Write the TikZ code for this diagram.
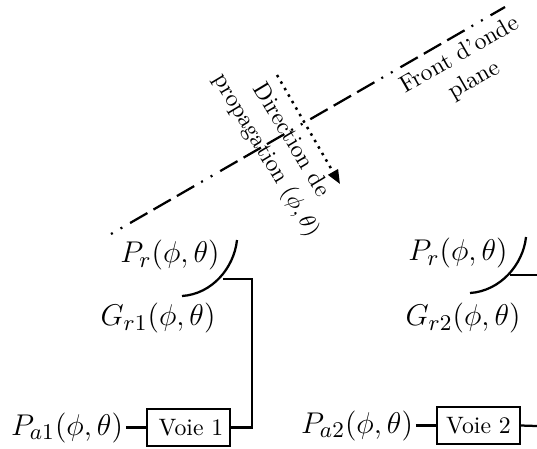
\documentclass[tikz,border=0pt]{standalone}
\usetikzlibrary{shapes,arrows,arrows.meta,positioning,fit,calc}
\usepackage{xcolor}

\begin{document}
\begin{tikzpicture}[x=0.4pt, y=-0.4pt, auto]
  \tikzstyle{voie} = [rectangle, draw, line width=0.9pt, minimum width=33pt, minimum height=14.8pt, inner sep=0pt, text centered, font=\fontsize{9.5pt}{11.6pt}\selectfont]
  \tikzstyle{wire} = [line width=0.9pt]
  \tikzstyle{dish} = [line width=0.9pt]
  \tikzstyle{power} = [font=\fontsize{13pt}{15pt}\selectfont, inner sep=0pt]
  \tikzstyle{legend} = [align=center, inner sep=0pt, font=\fontsize{9.5pt}{11.6pt}\selectfont]
  \tikzstyle{front} = [line width=0.9pt, dash pattern=on 0.8pt off 3.6pt on 0.8pt off 3.6pt on 8pt off 2.8pt on 8pt off 2.8pt on 8pt off 3.2pt]
  \tikzstyle{arrow} = [line width=1pt, dash pattern=on 1pt off 2pt, -{Stealth[length=5.6pt,width=4.4pt,inset=0pt]}]
  \useasboundingbox (0,0) rectangle (537,448);
  % plane wave
  \coordinate (fs) at (111,234);
  \coordinate (fe) at (505,7);
  \draw [front] (fs) -- (fe);
  \coordinate (ds) at (277,75);
  \coordinate (de) at (340,184);
  \draw [arrow] (ds) -- (de);
  \node [legend, rotate=-59] (dirprop) at (278,148) {Direction de\\propagation $(\phi,\theta)$};
  \node [legend, rotate=30] (frontlab) at (467,68) {Front d'onde\\plane};
  % voie 1
  \node [voie] (voie1) at (188.5,427.5) {\hspace{2pt}Voie 1};
  \node [power, left of=voie1, node distance=48.6pt] (pa1) {$P_{a1}(\phi,\theta)$};
  \node [power] (pr1) at (170,255) {$P_r(\phi,\theta)$};
  \node [power] (gr1) at (158,318) {$G_{r1}(\phi,\theta)$};
  \coordinate (a1s) at (182,296);
  \coordinate (a1e) at (237,240);
  \coordinate (a1m) at (223,279);
  \coordinate (c1) at (252,279);
  \draw [dish] (a1s) .. controls (212,294) and (234,268) .. (a1e);
  \draw [wire] (a1m) -- (c1) |- (voie1.east);
  \draw [wire] (pa1.east) ++(1pt,0) -- (voie1.west);
  % voie 2
  \node [voie, right of=voie1, node distance=116pt, yshift=0.8pt] (voie2) {Voie 2};
  \node [power, left of=voie2, node distance=48.6pt] (pa2) {$P_{a2}(\phi,\theta)$};
  \node [power] (pr2) at (458,253) {$P_r(\phi,\theta)$};
  \node [power] (gr2) at (463,318) {$G_{r2}(\phi,\theta)$};
  \coordinate (a2s) at (470,293);
  \coordinate (a2e) at (526,237);
  \coordinate (a2m) at (510,275);
  \coordinate (c2) at (537,275);
  \coordinate (c3) at (537,426);
  \draw [dish] (a2s) .. controls (500,291) and (523,265) .. (a2e);
  \draw [wire] (a2m) -- (c2);
  \draw [wire] (voie2.east) -- (c3);
  \draw [wire] (pa2.east) ++(1pt,0) -- (voie2.west);
\end{tikzpicture}
\end{document}
